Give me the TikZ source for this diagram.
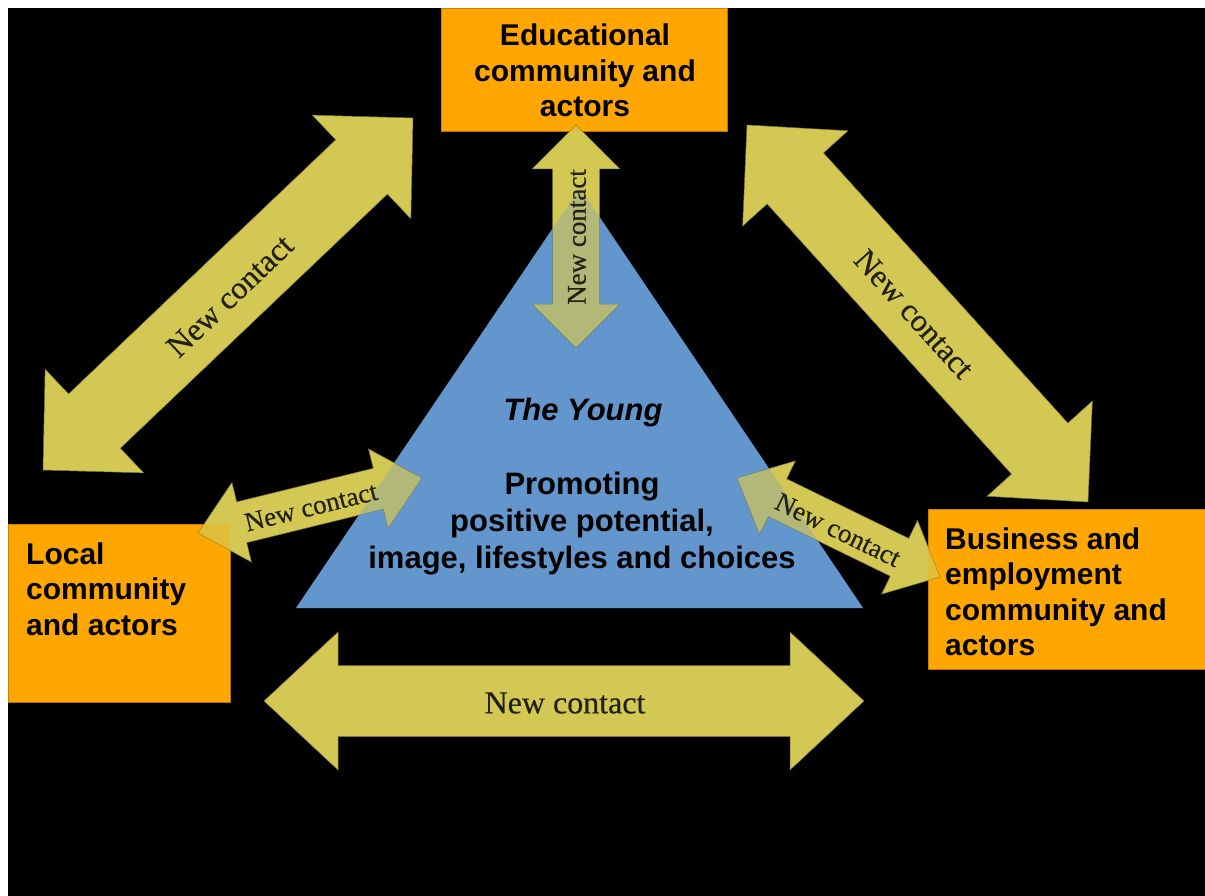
\documentclass[tikz,border=0pt]{standalone}
\usepackage{fontspec}
\setmainfont{Liberation Serif}
\newfontfamily\sansbold{Liberation Sans}
\newfontfamily\labelfont[FakeBold=0.4]{Liberation Serif}
\usetikzlibrary{calc}
\definecolor{boxorange}{RGB}{255,167,0}
\definecolor{boxedge}{RGB}{180,115,0}
\definecolor{tri}{RGB}{99,150,204}
\definecolor{arr}{RGB}{212,200,84}
\definecolor{arredge}{RGB}{120,115,55}
\definecolor{lbl}{RGB}{35,32,20}
\newcommand{\blockdarrow}[5]{%
  \path ($(#1)!#5!(#2)$) coordinate (#1-#2-a) ($(#2)!#5!(#1)$) coordinate (#1-#2-b);
  \filldraw[arrowfill] (#1) -- ($(#1-#2-a)!#4!-90:(#2)$) -- ($(#1-#2-a)!#3!-90:(#2)$)
    -- ($(#1-#2-b)!#3!90:(#1)$) -- ($(#1-#2-b)!#4!90:(#1)$) -- (#2)
    -- ($(#1-#2-b)!#4!-90:(#1)$) -- ($(#1-#2-b)!#3!-90:(#1)$)
    -- ($(#1-#2-a)!#3!90:(#2)$) -- ($(#1-#2-a)!#4!90:(#2)$) -- cycle;}
\begin{document}
\begin{tikzpicture}[x=1pt,y=-1pt,
  box/.style={rectangle, fill=boxorange, draw=boxedge, line width=0.8pt, inner sep=0pt},
  boxtext/.style={inner sep=0pt, font=\sansbold\bfseries\fontsize{30}{35.5}\selectfont, text=black},
  tritext/.style={inner sep=0pt, font=\sansbold\bfseries\fontsize{31}{37}\selectfont, text=black, align=center},
  arrowfill/.style={fill=arr, draw=arredge, line width=0.5pt, line join=miter},
  contact/.style={inner sep=0pt, text=lbl, font=\labelfont\fontsize{#1}{#1}\selectfont},
]
\useasboundingbox (0,0) rectangle (1205,896);
\fill[white] (0,0) rectangle (1205,896);
\fill[black] (8,8) rectangle (1205,896);

% boxes
\node[box, minimum width=286pt, minimum height=123pt] (edu) at (584,69.5) {};
\node[box, minimum width=222pt, minimum height=178pt] (local) at (119,613) {};
\node[box, minimum width=282pt, minimum height=160pt] (business) at (1069,589) {};

% triangle
\coordinate (apex) at (580,188);
\coordinate (tbl) at (296,608);
\coordinate (tbr) at (863,608);
\fill[tri] (apex) -- (tbl) -- (tbr) -- cycle;

% arrow end points
\coordinate (tlA) at (43,470);   \coordinate (tlB) at (413,118);
\coordinate (trA) at (747,125);  \coordinate (trB) at (1088,502);
\coordinate (btA) at (264,701);  \coordinate (btB) at (864,701);
\coordinate (vtA) at (576,125);  \coordinate (vtB) at (576,348);
\coordinate (slA) at (198,533);  \coordinate (slB) at (422,478);
\coordinate (srA) at (737,478);  \coordinate (srB) at (940,577);

\blockdarrow{tlA}{tlB}{37.5pt}{71.5pt}{71pt}
\blockdarrow{trA}{trB}{38pt}{71pt}{72pt}
\blockdarrow{btA}{btB}{35.5pt}{69pt}{74pt}
\blockdarrow{vtA}{vtB}{23.5pt}{44pt}{44pt}
\blockdarrow{slA}{slB}{21pt}{41pt}{45pt}
\blockdarrow{srA}{srB}{21pt}{41pt}{45pt}

% tint where arrows lie over shapes
\fill[tri, opacity=0.3] (apex) -- (tbl) -- (tbr) -- cycle;
\fill[boxorange, opacity=0.3] (edu.south west) rectangle (edu.north east);
\fill[boxorange, opacity=0.3] (local.south west) rectangle (local.north east);
\fill[boxorange, opacity=0.3] (business.south west) rectangle (business.north east);

% arrow labels
\node[contact=32, rotate=43.6] (lbltl) at (230,296) {New contact};
\node[contact=32, rotate=-47.9] (lbltr) at (914,314) {New contact};
\node[contact=32] (lblbt) at (565,703) {New contact};
\node[contact=27, rotate=90] (lblvt) at (577,237) {New contact};
\node[contact=27, rotate=13.8] (lblsl) at (311,507) {New contact};
\node[contact=27, rotate=-26] (lblsr) at (838,530) {New contact};

% texts
\node[boxtext, align=center] (edutxt) at (585,70.5) {Educational\\community and\\actors};
\node[boxtext, align=left, anchor=west] (localtxt) at (26,589) {Local\\community\\and actors};
\node[boxtext, align=left, anchor=west] (bustxt) at (945,592) {Business and\\employment\\community and\\actors};
\node[tritext, font=\sansbold\bfseries\itshape\fontsize{31}{37}\selectfont] (young) at (583,412) {The Young};
\node[tritext] (promo) at (582,524) {Promoting\\positive potential,\\image, lifestyles and choices};
\end{tikzpicture}
\end{document}
